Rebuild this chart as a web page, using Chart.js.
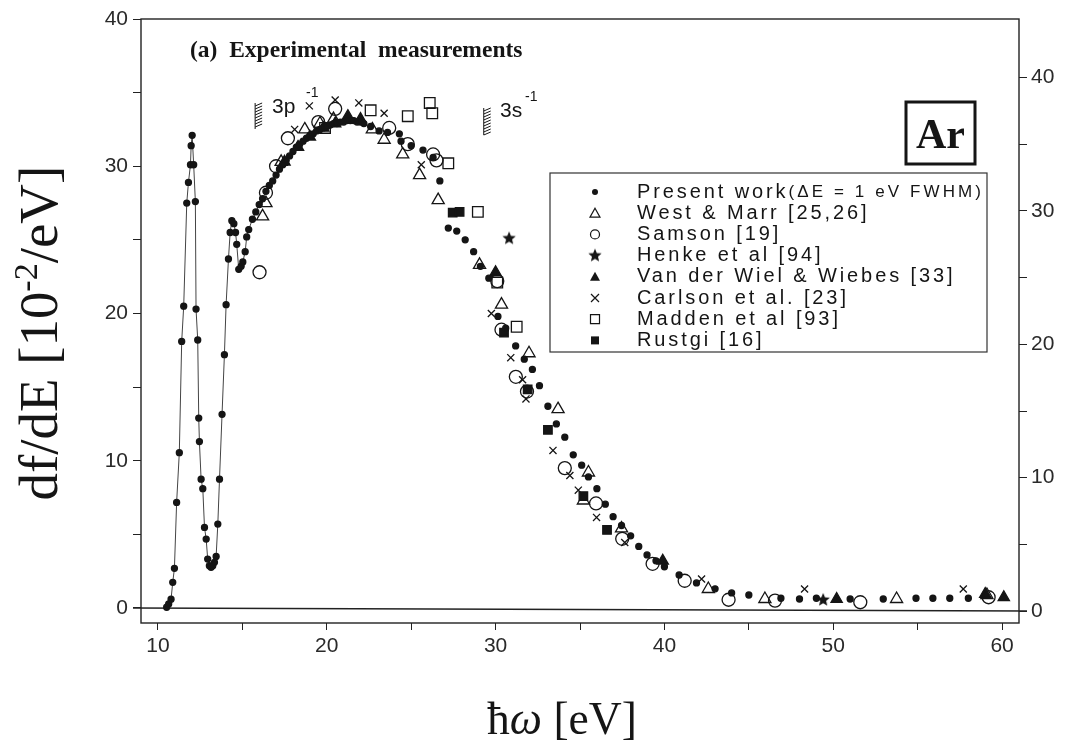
<!DOCTYPE html>
<html>
<head>
<meta charset="utf-8">
<script src="https://cdn.jsdelivr.net/npm/chart.js@4.4.1/dist/chart.umd.min.js"></script>
<style>
html, body { margin: 0; padding: 0; background: #fff; }
</style>
</head>
<body>
<canvas id="myChart" width="1070" height="753"></canvas>
<script>
// tick values
const xTicks = [10, 15, 20, 25, 30, 35, 40, 45, 50, 55, 60];
const yTicks = [0, 5, 10, 15, 20, 25, 30, 35, 40];

// present work, connected part (discrete dots joined by a thin line)
const presentLineX = [10.52, 10.64, 10.78, 10.88, 10.98, 11.11, 11.27, 11.41, 11.53, 11.71, 11.81, 11.93, 11.97, 12.03, 12.12, 12.22, 12.26, 12.36, 12.42, 12.46, 12.56, 12.66, 12.76, 12.86, 12.95, 13.05, 13.15, 13.25, 13.35, 13.45, 13.55, 13.65, 13.8, 13.94, 14.04, 14.18, 14.28, 14.38, 14.5, 14.6, 14.67, 14.79, 14.93, 15.03, 15.17, 15.26, 15.38, 15.6, 15.8, 16.0, 16.2, 16.4, 16.6, 16.8, 17.0, 17.2, 17.4, 17.6, 17.8, 18.0, 18.2, 18.4, 18.6, 18.8, 19.0, 19.2, 19.4, 19.6, 19.8, 20.0, 20.2, 20.4, 20.6, 20.8, 21.0, 21.2, 21.4, 21.6, 21.8, 22.0, 22.2];
const presentLineY = [0.05, 0.27, 0.6, 1.74, 2.69, 7.17, 10.55, 18.1, 20.5, 27.5, 28.9, 30.1, 31.4, 32.1, 30.1, 27.6, 20.3, 18.2, 12.9, 11.3, 8.75, 8.1, 5.47, 4.68, 3.32, 2.87, 2.76, 2.87, 3.1, 3.5, 5.7, 8.75, 13.15, 17.2, 20.6, 23.7, 25.5, 26.3, 26.1, 25.5, 24.7, 23.0, 23.2, 23.5, 24.2, 25.2, 25.7, 26.4, 26.9, 27.4, 27.8, 28.3, 28.7, 29.0, 29.4, 29.8, 30.1, 30.4, 30.7, 31.0, 31.3, 31.5, 31.7, 31.9, 32.1, 32.2, 32.4, 32.5, 32.6, 32.7, 32.8, 32.9, 32.9, 33.0, 33.0, 33.1, 33.1, 33.1, 33.0, 33.0, 32.9];

// present work, scattered dots above 22 eV
const presentDotX = [22.6, 23.1, 23.6, 24.3, 24.4, 25.0, 25.7, 26.3, 26.7, 27.2, 27.7, 28.2, 28.7, 29.1, 29.6, 30.14, 30.6, 31.19, 31.7, 32.18, 32.6, 33.1, 33.6, 34.1, 34.6, 35.1, 35.5, 36.0, 36.5, 36.96, 37.46, 38.0, 38.48, 38.97, 39.5, 40.0, 40.87, 41.9, 43.0, 43.98, 45.0, 46.9, 48.0, 49.0, 51.0, 52.96, 54.9, 55.9, 56.9, 58.0];
const presentDotY = [32.7, 32.4, 32.3, 32.2, 31.7, 31.4, 31.1, 30.6, 29.0, 25.8, 25.6, 25.0, 24.2, 23.2, 22.4, 19.8, 19.0, 17.8, 16.9, 16.2, 15.1, 13.7, 12.5, 11.6, 10.4, 9.7, 8.9, 8.1, 7.05, 6.2, 5.6, 4.9, 4.18, 3.6, 3.2, 2.8, 2.24, 1.7, 1.3, 1.02, 0.88, 0.66, 0.61, 0.66, 0.61, 0.61, 0.66, 0.66, 0.66, 0.66];

const westX = [16.2, 16.4, 17.3, 18.7, 19.6, 20.4, 22.7, 23.4, 24.5, 25.5, 26.6, 29.05, 30.35, 31.98, 33.7, 35.2, 35.5, 37.46, 42.6, 45.95, 53.75, 59.1];
const westY = [26.6, 27.5, 30.3, 32.5, 32.9, 33.2, 32.5, 31.8, 30.8, 29.4, 27.7, 23.3, 20.6, 17.3, 13.5, 7.3, 9.2, 5.4, 1.29, 0.61, 0.61, 0.88];

const samsonX = [16.02, 16.4, 17.0, 17.7, 19.5, 20.5, 23.7, 24.8, 26.3, 26.5, 30.1, 30.35, 31.2, 31.86, 34.1, 35.95, 37.5, 39.3, 41.2, 43.8, 46.55, 51.6, 59.2];
const samsonY = [22.8, 28.2, 30.0, 31.9, 33.0, 33.9, 32.6, 31.5, 30.8, 30.4, 22.2, 18.9, 15.7, 14.7, 9.5, 7.1, 4.7, 3.0, 1.85, 0.56, 0.5, 0.39, 0.73];

const henkeX = [30.8, 49.4];
const henkeY = [25.1, 0.55];

const wielX = [17.5, 18.3, 19.0, 19.8, 20.5, 21.25, 22.0, 30.0, 39.9, 50.2, 59.0, 60.1];
const wielY = [30.3, 31.3, 32.0, 32.6, 32.9, 33.4, 33.2, 22.8, 3.2, 0.61, 0.95, 0.73];

const carlsonX = [18.1, 18.97, 20.5, 21.9, 23.4, 25.6, 29.75, 30.9, 31.6, 31.8, 33.4, 34.4, 34.9, 35.98, 37.65, 42.2, 48.3, 57.7];
const carlsonY = [32.5, 34.1, 34.5, 34.3, 33.6, 30.1, 20.0, 17.0, 15.5, 14.2, 10.7, 9.0, 8.0, 6.15, 4.45, 1.97, 1.29, 1.29];

const maddenX = [19.9, 22.6, 24.8, 26.1, 26.25, 27.2, 28.95, 30.1, 31.25];
const maddenY = [32.6, 33.8, 33.4, 34.3, 33.6, 30.2, 26.9, 22.1, 19.1];

const rustgiX = [27.46, 27.87, 30.5, 31.9, 33.1, 35.2, 36.6];
const rustgiY = [26.85, 26.9, 18.7, 14.85, 12.1, 7.6, 5.3];

const legendLabels = ['Present work', 'West & Marr [25,26]', 'Samson [19]', 'Henke et al [94]', 'Van der Wiel & Wiebes [33]', 'Carlson et al. [23]', 'Madden et al [93]', 'Rustgi [16]'];

const ink = '#151515';

function pts(xs, ys) {
    return xs.map((x, i) => ({ x: x, y: ys[i] }));
}

function makeStar(r) {
    let c = document.createElement('canvas');
    c.width = c.height = 2 * r + 2;
    let g = c.getContext('2d');
    g.beginPath();
    for (let i = 0; i < 10; i++) {
        let a = -Math.PI / 2 + i * Math.PI / 5;
        let rr = i % 2 ? r * 0.45 : r;
        g.lineTo(r + 1 + rr * Math.cos(a), r + 1 + rr * Math.sin(a));
    }
    g.closePath();
    g.fillStyle = ink;
    g.fill();
    return c;
}
const starImg = makeStar(7);

function sym(style, radius, filled) {
    return {
        showLine: false,
        pointStyle: style,
        pointRadius: radius,
        pointHoverRadius: radius,
        pointBackgroundColor: filled ? ink : 'rgba(0,0,0,0)',
        pointBorderColor: ink,
        pointBorderWidth: 1.3,
    };
}

// text helpers for the hand placed labels
function fontOf(p, s) {
    return (p.style || '') + ' ' + (s * (p.k || 1)).toFixed(1) + 'px ' + (p.fam || '"Liberation Serif"');
}
function drawRich(ctx, parts, x, y, targetW, center) {
    let w = 0;
    parts.forEach(p => { ctx.font = fontOf(p, 100); w += ctx.measureText(p.t).width; });
    let s = 100 * targetW / w;
    let cx = center ? x - targetW / 2 : x;
    parts.forEach(p => {
        ctx.font = fontOf(p, s);
        ctx.fillText(p.t, cx, y + (p.dy || 0) * s);
        cx += ctx.measureText(p.t).width;
    });
}

function hatch(ctx, x, y0, y1) {
    ctx.beginPath();
    ctx.moveTo(x, y0);
    ctx.lineTo(x, y1);
    for (let y = y0 + 3; y <= y1; y += 3) {
        ctx.moveTo(x, y);
        ctx.lineTo(x + 7, y - 3);
    }
    ctx.stroke();
}

function legendSymbol(ctx, i, x, y) {
    ctx.fillStyle = ink;
    ctx.strokeStyle = ink;
    ctx.lineWidth = 1.2;
    ctx.beginPath();
    if (i === 0) { ctx.arc(x, y, 3, 0, 2 * Math.PI); ctx.fill(); }
    if (i === 1 || i === 4) {
        ctx.moveTo(x, y - 5); ctx.lineTo(x + 5, y + 4); ctx.lineTo(x - 5, y + 4); ctx.closePath();
        if (i === 4) ctx.fill(); else ctx.stroke();
    }
    if (i === 2) { ctx.arc(x, y, 4.5, 0, 2 * Math.PI); ctx.stroke(); }
    if (i === 3) ctx.drawImage(starImg, x - 8, y - 8);
    if (i === 5) { ctx.moveTo(x - 4, y - 4); ctx.lineTo(x + 4, y + 4); ctx.moveTo(x + 4, y - 4); ctx.lineTo(x - 4, y + 4); ctx.stroke(); }
    if (i === 6) { ctx.rect(x - 4.5, y - 4.5, 9, 9); ctx.stroke(); }
    if (i === 7) { ctx.rect(x - 4, y - 4, 8, 8); ctx.fill(); }
}

const decor = {
    id: 'decor',
    beforeDatasetsDraw(chart) {
        const ctx = chart.ctx, a = chart.chartArea, ys = chart.scales.y;
        ctx.save();
        ctx.strokeStyle = '#222';
        ctx.lineWidth = 1.4;
        ctx.strokeRect(a.left, a.top, a.right - a.left, a.bottom - a.top);
        let y0 = ys.getPixelForValue(0);
        ctx.beginPath();
        ctx.moveTo(a.left - 8, y0);
        ctx.lineTo(a.right + 8, y0 + 3);
        ctx.stroke();
        ctx.restore();
    },
    afterDraw(chart) {
        const ctx = chart.ctx, xs = chart.scales.x;
        ctx.save();
        ctx.fillStyle = ink;
        ctx.strokeStyle = ink;
        ctx.textBaseline = 'alphabetic';

        // panel title
        drawRich(ctx, [{ t: '(a)  Experimental  measurements', style: 'bold' }], 190, 57, 332, false);

        // axis titles
        drawRich(ctx, [{ t: 'ħ' }, { t: 'ω', style: 'italic' }, { t: ' [eV]' }], 562, 734, 150, true);
        ctx.save();
        ctx.translate(57, 333);
        ctx.rotate(-Math.PI / 2);
        drawRich(ctx, [{ t: 'df/dE [10' }, { t: '-2', k: 0.62, dy: -0.36 }, { t: '/eV]' }], 0, 0, 335, true);
        ctx.restore();

        // Ar box
        ctx.lineWidth = 3;
        ctx.strokeRect(906, 102, 69, 62);
        ctx.font = 'bold 42px "Liberation Serif"';
        ctx.textAlign = 'center';
        ctx.fillText('Ar', 940.5, 148);
        ctx.textAlign = 'left';

        // ionisation thresholds
        ctx.lineWidth = 1;
        let p3 = xs.getPixelForValue(15.76), s3 = xs.getPixelForValue(29.24);
        hatch(ctx, p3, 103, 129);
        hatch(ctx, s3 + 1, 108, 135);
        ctx.font = '21px "Liberation Sans"';
        ctx.fillText('3p', 272, 113);
        ctx.fillText('3s', 500, 117);
        ctx.font = '14px "Liberation Sans"';
        ctx.fillText('-1', 306, 97);
        ctx.fillText('-1', 525, 101);

        // legend
        ctx.lineWidth = 1.2;
        ctx.strokeStyle = '#333';
        ctx.strokeRect(550, 173, 437, 179);
        for (let i = 0; i < legendLabels.length; i++) {
            let y = 192 + i * 21.2;
            legendSymbol(ctx, i, 595, y);
            ctx.fillStyle = ink;
            ctx.textBaseline = 'middle';
            ctx.letterSpacing = '2.9px';
            ctx.font = '20px "Liberation Sans"';
            ctx.fillText(legendLabels[i], 637, y);
            if (i === 0) {
                let w = ctx.measureText(legendLabels[0]).width;
                ctx.letterSpacing = '3.1px';
                ctx.font = '17px "Liberation Sans"';
                ctx.fillText('(ΔE = 1 eV FWHM)', 637 + w, y);
            }
        }
        ctx.restore();
    }
};

const tickFont = { family: '"Liberation Sans"', size: 21 };
const labelEvery10 = v => (v % 10 === 0 ? String(v) : '');

let chart = new Chart(document.getElementById('myChart').getContext('2d'), {
    type: 'scatter',
    data: {
        datasets: [
            Object.assign(sym('circle', 3, true), { label: legendLabels[0], data: pts(presentLineX, presentLineY), showLine: true, borderColor: '#444', borderWidth: 1 }),
            Object.assign(sym('circle', 3, true), { label: legendLabels[0], data: pts(presentDotX, presentDotY) }),
            Object.assign(sym('triangle', 7, false), { label: legendLabels[1], data: pts(westX, westY) }),
            Object.assign(sym('circle', 6.5, false), { label: legendLabels[2], data: pts(samsonX, samsonY) }),
            Object.assign(sym(starImg, 7, true), { label: legendLabels[3], data: pts(henkeX, henkeY) }),
            Object.assign(sym('triangle', 6.5, true), { label: legendLabels[4], data: pts(wielX, wielY) }),
            Object.assign(sym('crossRot', 5, false), { label: legendLabels[5], data: pts(carlsonX, carlsonY) }),
            Object.assign(sym('rect', 7.5, false), { label: legendLabels[6], data: pts(maddenX, maddenY) }),
            Object.assign(sym('rect', 6, true), { label: legendLabels[7], data: pts(rustgiX, rustgiY) }),
        ]
    },
    options: {
        responsive: false,
        animation: false,
        layout: { padding: { top: 19, left: 0, right: 0, bottom: 0 } },
        plugins: {
            legend: { display: false },
            tooltip: { enabled: false },
        },
        scales: {
            x: {
                type: 'linear',
                min: 9,
                max: 61,
                afterBuildTicks: s => { s.ticks = xTicks.map(v => ({ value: v })); },
                afterFit: s => { s.height = 130; },
                border: { display: false },
                grid: { drawOnChartArea: false, tickLength: 7, tickColor: '#222' },
                ticks: { font: tickFont, color: '#2a2a2a', padding: 4, maxRotation: 0, autoSkip: false, callback: labelEvery10 },
            },
            y: {
                type: 'linear',
                position: 'left',
                min: -1.02,
                max: 40,
                afterBuildTicks: s => { s.ticks = yTicks.map(v => ({ value: v })); },
                afterFit: s => { s.width = 141; },
                border: { display: false },
                grid: { drawOnChartArea: false, tickLength: 8, tickColor: '#222' },
                ticks: { font: tickFont, color: '#2a2a2a', padding: 5, autoSkip: false, callback: labelEvery10 },
            },
            y2: {
                type: 'linear',
                position: 'right',
                min: -0.9,
                max: 44.4,
                afterBuildTicks: s => { s.ticks = yTicks.map(v => ({ value: v })); },
                afterFit: s => { s.width = 51; },
                border: { display: false },
                grid: { drawOnChartArea: false, tickLength: 8, tickColor: '#222' },
                ticks: { font: tickFont, color: '#2a2a2a', padding: 4, autoSkip: false, callback: labelEvery10 },
            },
        },
    },
    plugins: [decor],
});
</script>
</body>
</html>
